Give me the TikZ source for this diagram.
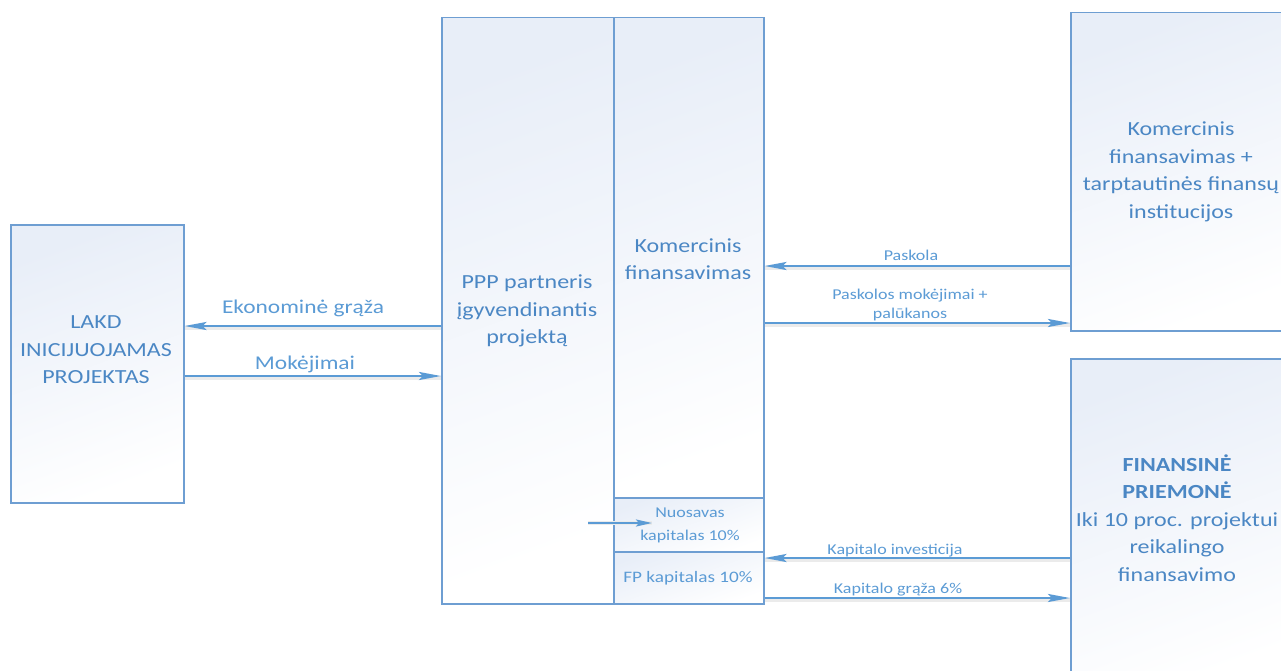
\documentclass[tikz,border=0pt]{standalone}
\usepackage{fontspec}
\setmainfont{Carlito}[FakeStretch=1.2]
\usetikzlibrary{arrows.meta}
\definecolor{bord}{RGB}{110,158,210}
\definecolor{txt}{RGB}{75,135,196}
\definecolor{lbl}{RGB}{91,155,213}
\definecolor{fillA}{RGB}{232,238,248}
\tikzset{
  box/.style={draw=bord, line width=1.5pt, top color=fillA, bottom color=white, shading angle=20, inner sep=0pt},
  boxtext/.style={text=txt, align=center, font=\fontsize{20}{27.5}\selectfont},
  lbltext/.style={text=lbl, align=center, font=\fontsize{19.5}{23}\selectfont},
  smalltext/.style={text=lbl, align=center, font=\fontsize{15}{19}\selectfont},
  arr/.style={draw=lbl, line width=2.6pt, -{Stealth[length=22pt,width=8pt,inset=4pt]}},
  shad/.style={draw=black!8, line width=4pt, yshift=-2pt}
}
\begin{document}
\begin{tikzpicture}[x=1pt,y=-1pt]
\clip (0,0) rectangle (1281,671);
\fill[white] (0,0) rectangle (1281,671);
% boxes
\node[box, anchor=north west, minimum width=173pt, minimum height=278pt] (lakd) at (10,224) {};
\node[box, anchor=north west, minimum width=172pt, minimum height=586pt] (ppp) at (441,17) {};
\node[box, anchor=north west, minimum width=150pt, minimum height=480pt] (kom) at (613,17) {};
\node[box, anchor=north west, minimum width=150pt, minimum height=54pt] (nuo) at (613,497) {};
\node[box, anchor=north west, minimum width=150pt, minimum height=52pt] (fp) at (613,551) {};
\node[box, anchor=north west, minimum width=225pt, minimum height=318pt] (rt) at (1070,12) {};
\node[box, anchor=north west, minimum width=225pt, minimum height=330pt] (rb) at (1070,358) {};
% box texts
\node[boxtext] (lakdt) at (96,350) {LAKD\\INICIJUOJAMAS\\PROJEKTAS};
\node[boxtext] (pppt) at (527,311) {PPP partneris\\įgyvendinantis\\projektą};
\node[boxtext] (komt) at (688,259) {Komercinis\\finansavimas};
\node[smalltext, font=\fontsize{15}{23}\selectfont] (nuot) at (690,525) {Nuosavas\\kapitalas 10\%};
\node[smalltext, font=\fontsize{16}{19}\selectfont] (fpt) at (688,578) {FP kapitalas 10\%};
\node[boxtext] (rtt) at (1181,172) {Komercinis\\finansavimas +\\tarptautinės finansų\\institucijos};
\node[boxtext] (rbt) at (1177,518) {\textbf{FINANSINĖ}\\\textbf{PRIEMONĖ}\\Iki 10 proc. projektui\\reikalingo\\finansavimo};
% arrows
\draw[shad] (ppp.west |- 0,326) -- (lakd.east |- 0,326);
\draw[arr] (ppp.west |- 0,326) -- (lakd.east |- 0,326);
\node[lbltext] (l1) at (303,308) {Ekonominė grąža};
\draw[shad] (lakd.east |- 0,376) -- (ppp.west |- 0,376);
\draw[arr] (lakd.east |- 0,376) -- (ppp.west |- 0,376);
\node[lbltext] (l2) at (305,364) {Mokėjimai};
\draw[shad] (rt.west |- 0,266) -- (kom.east |- 0,266);
\draw[arr] (rt.west |- 0,266) -- (kom.east |- 0,266);
\node[smalltext] (l3) at (911,255) {Paskola};
\draw[shad] (kom.east |- 0,323) -- (rt.west |- 0,323);
\draw[arr] (kom.east |- 0,323) -- (rt.west |- 0,323);
\node[smalltext] (l4) at (910,305) {Paskolos mokėjimai +\\palūkanos};
\coordinate (nstart) at (588,523);
\coordinate (nend) at (652,523);
\draw[shad] (nstart) -- (nend);
\draw[arr, line width=2.2pt, -{Stealth[length=16pt,width=7pt,inset=3pt]}] (nstart) -- (nend);
\draw[shad] (rb.west |- 0,558) -- (nuo.east |- 0,558);
\draw[arr] (rb.west |- 0,558) -- (nuo.east |- 0,558);
\node[smalltext] (l5) at (895,551) {Kapitalo investicija};
\draw[shad] (fp.east |- 0,598) -- (rb.west |- 0,598);
\draw[arr] (fp.east |- 0,598) -- (rb.west |- 0,598);
\node[smalltext] (l6) at (898,590) {Kapitalo grąža 6\%};
\end{tikzpicture}
\end{document}
